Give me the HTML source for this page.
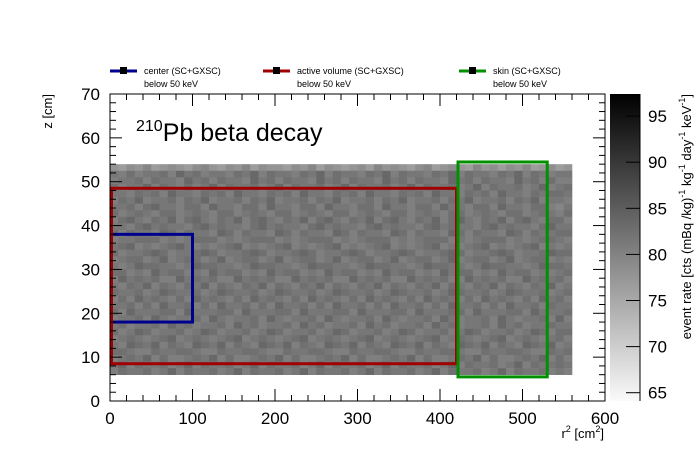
<!DOCTYPE html>
<html><head><meta charset="utf-8"><style>
body{margin:0;background:#fff;}
svg{display:block;font-family:"Liberation Sans",sans-serif;}
</style></head><body>
<svg id="c" width="696" height="472" xmlns="http://www.w3.org/2000/svg"></svg>
<script>
// ---- data ----
const xBinEdges=[0,560];          // r^2 range of histogram
const yBinEdges=[6,54];           // z range of histogram
const nX=56, nY=32;
// each row: digits 0-9 -> rate = 76.5 + d*1.0 (row 0 = top)
const rows=[
"1021301210231021302110213021012031210230121031202130120",
"5464556475645546574655465746554657465546574655465746545",
"4556465547564655475646554756465547564655475646554756464",
"6455746546457465564574655645746556457465564574655645745",
"5546564755465647554656475546564755465647554656475546566",
"4657455646574556465745564657455646574556465745564657455",
"5564675546647554664755466475546647554664755466475546643",
"6456546645654664565466456546645654664565466456546645654",
"4675465746754657467546574675465746754657467546574675466",
"5546756554675655467565546756554675655467565546756554675",
"6465547646554764655476465547646554764655476465547646556",
"4556664545666454566645456664545666454566645456664545665",
"5674545675454567454567454567454567454567454567454567454",
"6455676455676455676455676455676455676455676455676455676",
"4566457456645745664574566457456645745664574566457456645",
"5457665545766554576655457665545766554576655457665545766",
"6645475664547566454756645475664547566454756645475664545",
"4756564475656447565644756564475656447565644756564475656",
"5465746546574654657465465746546574654657465465746546574",
"6556457655645765564576556457655645765564576556457655645",
"4647565464756546475654647565464756546475654647565464756",
"5564647556464755646475564647556464755646475564647556465",
"6475556647555664755566475556647555664755566475556647555",
"4556475455647545564754556475455647545564754556475455647",
"5645564756455647564556475645564756455647564556475645565",
"6457645564576455645764556457645564576455645764556457646",
"4565456745654567456545674565456745654567456545674565456",
"5476574654765746547657465476574654765746547657465476574",
"6654465566544655665446556654465566544655665446556654465",
"4565746445657464456574644565746445657464456574644565746",
"5746556457465564574655645746556457465564574655645746556",
"4655645746556457465564574655645746556457465564574655645"
];
const cbMin=64.1, cbMax=97.4;
const cbTicks=[65,70,75,80,85,90,95];
const xTicks=[0,100,200,300,400,500,600];
const yTicks=[0,10,20,30,40,50,60,70];
const boxes=[
 {name:"center-region-box",color:"#00008f",x0:0,x1:100,y0:18,y1:38},
 {name:"active-volume-box",color:"#a00000",x0:0,x1:420,y0:8.5,y1:48.5},
 {name:"skin-region-box",color:"#009000",x0:420,x1:530,y0:5.5,y1:54.5}
];
const legendLabels=["center (SC+GXSC)","active volume (SC+GXSC)","skin (SC+GXSC)"];
const legendColors=["#00008f","#a00000","#009000"];

// ---- layout ----
const L=110,R=605,T=94,B=401;
const X=v=>L+(v-0)/(600-0)*(R-L);
const Y=v=>B-(v-0)/(70-0)*(B-T);
const CB={x0:610,x1:640};
const CY=v=>B-(v-cbMin)/(cbMax-cbMin)*(B-T);
const svg=document.getElementById('c');
const NS="http://www.w3.org/2000/svg";
function mk(tag,attrs,parent){const e=document.createElementNS(NS,tag);for(const k in attrs)e.setAttribute(k,attrs[k]);(parent||svg).appendChild(e);return e;}
function gray(v){let t=(v-cbMin)/(cbMax-cbMin);t=Math.max(0,Math.min(1,t));const g=Math.round(250*(1-t));return `rgb(${g},${g},${g})`;}

// heatmap cells
const hm=mk('g',{});


const dx=(xBinEdges[1]-xBinEdges[0])/nX, dy=(yBinEdges[1]-yBinEdges[0])/nY;
for(let r=0;r<nY;r++){
  const row=rows[r];
  for(let i=0;i<nX;i++){
    const d=+(row[i%row.length]);
    const v=76.5+d*1.0;
    const x0=xBinEdges[0]+i*dx, yTop=yBinEdges[1]-r*dy;
    const c=mk('rect',{x:X(x0),y:Y(yTop),width:X(x0+dx)-X(x0)+0.3,height:Y(yTop-dy)-Y(yTop)+0.3,fill:gray(v)},hm);
    
    
  }
}
// boxes
boxes.forEach(b=>{
  const e=mk('rect',{x:X(b.x0)+1.5,y:Y(b.y1),width:X(b.x1)-X(b.x0)-1.5,height:Y(b.y0)-Y(b.y1),fill:'none',stroke:b.color,'stroke-width':3});
  
  
});
// frame
const fr=mk('rect',{x:L,y:T,width:R-L,height:B-T,fill:'none',stroke:'#000','stroke-width':1});


// x ticks
for(let v=0;v<=600;v+=20){
  const len=v%100===0?12:6;
  mk('line',{x1:X(v),x2:X(v),y1:B,y2:B-len,stroke:'#000'});
  mk('line',{x1:X(v),x2:X(v),y1:T,y2:T+len,stroke:'#000'});
}
xTicks.forEach(v=>{
  const t=mk('text',{x:X(v),y:424,'font-size':17,'text-anchor':'middle'});t.textContent=v;
  
  
});
for(let v=0;v<=70;v+=2){
  const len=v%10===0?12:6;
  mk('line',{x1:L,x2:L+len,y1:Y(v),y2:Y(v),stroke:'#000'});
  mk('line',{x1:R,x2:R-len,y1:Y(v),y2:Y(v),stroke:'#000'});
}
yTicks.forEach(v=>{
  const t=mk('text',{x:100,y:Y(v)+6,'font-size':17,'text-anchor':'end'});t.textContent=v;
  
  
});
// axis titles
const xt=mk('text',{x:604,y:438,'font-size':13,'text-anchor':'end'});
xt.innerHTML='r<tspan font-size="9" dy="-6">2</tspan><tspan dy="6"> [cm</tspan><tspan font-size="9" dy="-6">2</tspan><tspan dy="6">]</tspan>';


const yt=mk('text',{x:0,y:0,'font-size':13,'text-anchor':'end',transform:'translate(52,94) rotate(-90)'});
yt.textContent='z [cm]';


// title
const ti=mk('text',{x:136,y:141,'font-size':25});
ti.innerHTML='<tspan font-size="16" dy="-10">210</tspan><tspan dy="10">Pb beta decay</tspan>';


// color bar
const defs=mk('defs',{});
const lg=mk('linearGradient',{id:'cbg',x1:0,y1:1,x2:0,y2:0},defs);
mk('stop',{offset:0,'stop-color':gray(cbMin)},lg);
mk('stop',{offset:1,'stop-color':gray(cbMax)},lg);
const cb=mk('rect',{x:CB.x0,y:T,width:CB.x1-CB.x0,height:B-T,fill:'url(#cbg)'});


mk('line',{x1:CB.x1,x2:CB.x1,y1:T,y2:B,stroke:'#000'});
cbTicks.forEach(v=>{
  mk('line',{x1:CB.x1-14,x2:CB.x1,y1:CY(v),y2:CY(v),stroke:'#000'});
  const t=mk('text',{x:648,y:CY(v)+6,'font-size':17});t.textContent=v;
  
  
});
const ct=mk('text',{x:0,y:0,'font-size':13,'text-anchor':'end',transform:'translate(691,94) rotate(-90)'});
ct.innerHTML='event rate [cts (mBq /kg)<tspan font-size="9" dy="-6">-1</tspan><tspan dy="6"> kg</tspan><tspan font-size="9" dy="-6">-1</tspan><tspan dy="6"> day</tspan><tspan font-size="9" dy="-6">-1</tspan><tspan dy="6"> keV</tspan><tspan font-size="9" dy="-6">-1</tspan><tspan dy="6">]</tspan>';


// legend
const lx=[110,263,459];
legendLabels.forEach((s,i)=>{
  const g=mk('g',{});
  
  
  mk('line',{x1:lx[i],x2:lx[i]+27,y1:71,y2:71,stroke:legendColors[i],'stroke-width':3},g);
  mk('rect',{x:lx[i]+10,y:67,width:7,height:7,fill:'#000'},g);
  const t=mk('text',{x:lx[i]+34,y:74,'font-size':9},g);t.textContent=s;
  const t2=mk('text',{x:lx[i]+34,y:87,'font-size':9},g);t2.textContent='below 50 keV';
});
</script>
</body></html>
